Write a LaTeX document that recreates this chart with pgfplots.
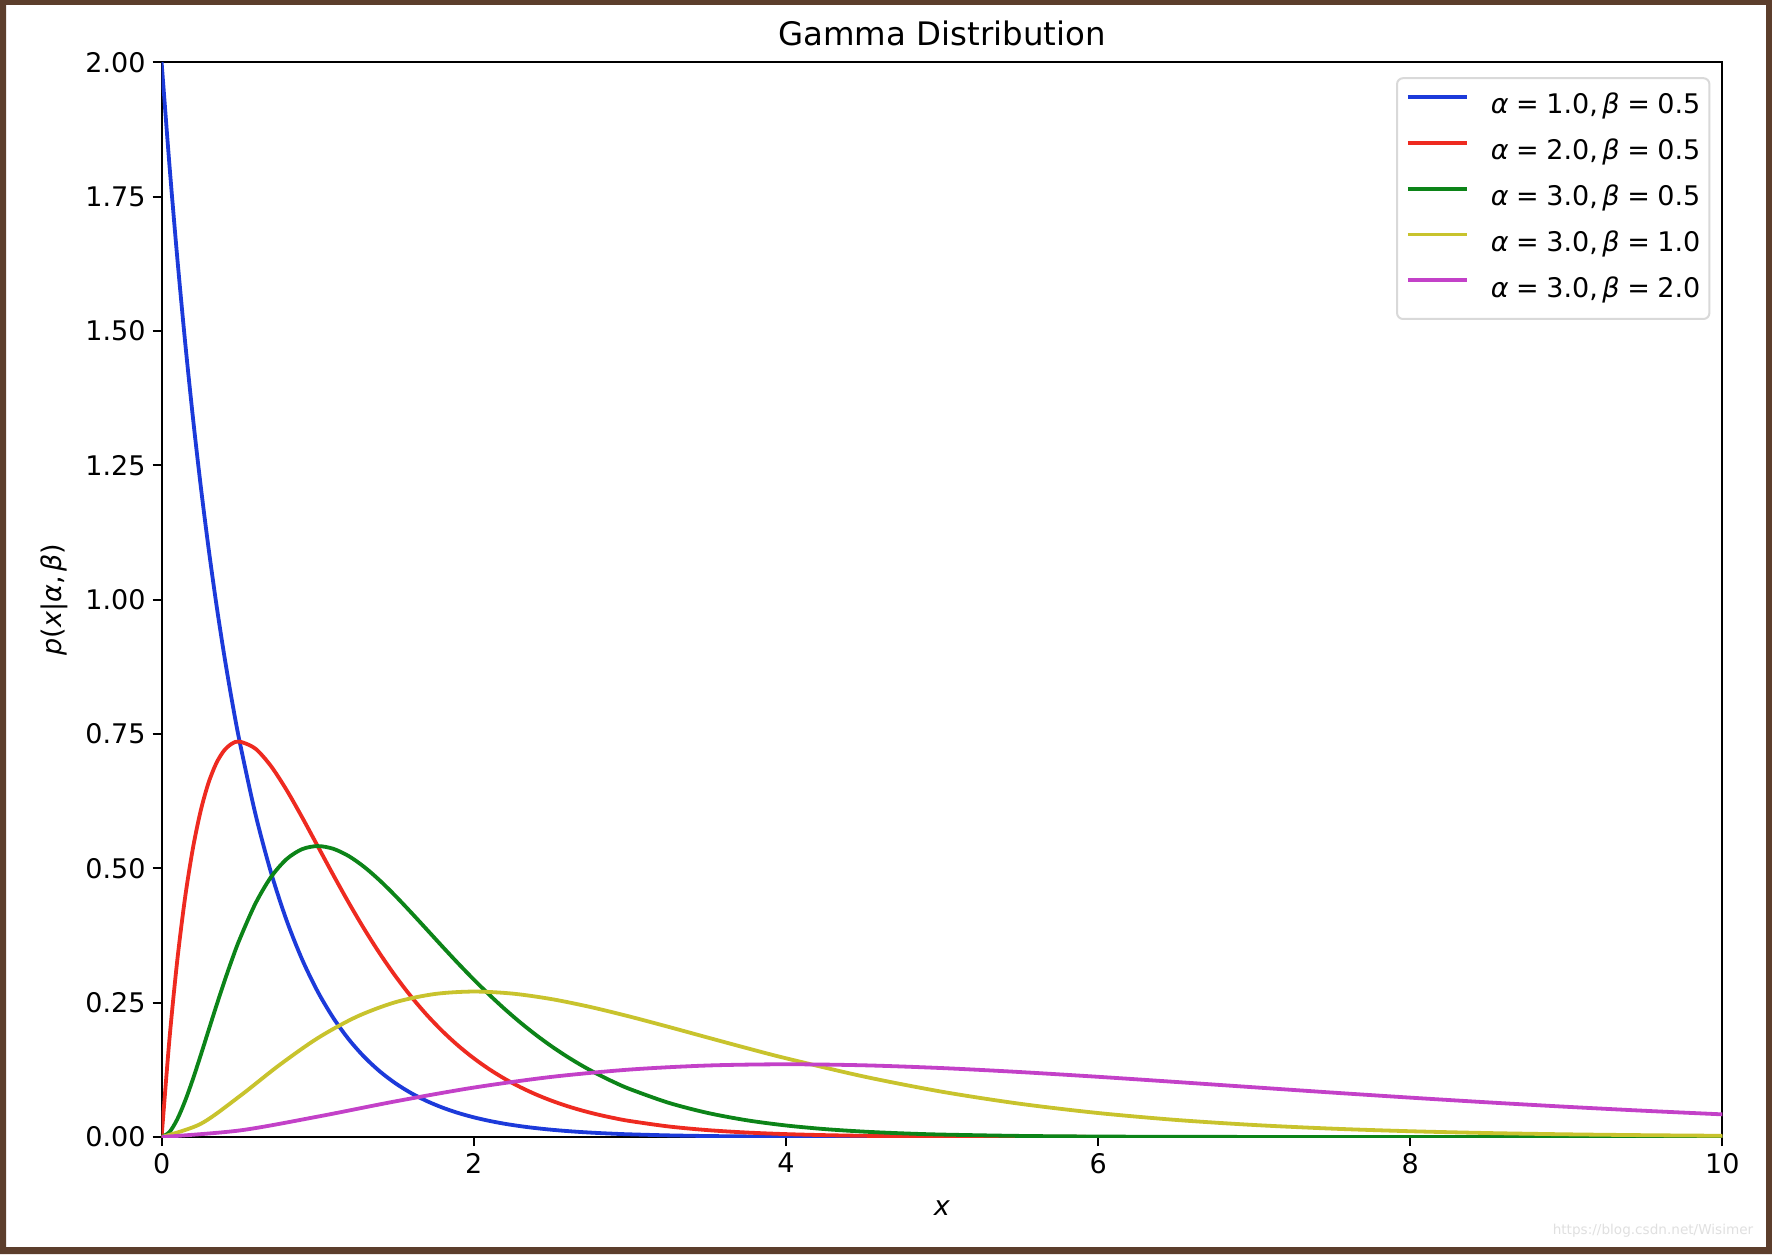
\documentclass[border=0pt]{standalone}
\usepackage{fontspec}
\setmainfont{DejaVu Sans}
\usepackage{pgfplots}
\pgfplotsset{compat=1.18}

\definecolor{cblue}{RGB}{28,58,218}
\definecolor{cred}{RGB}{238,42,32}
\definecolor{cgreen}{RGB}{12,132,24}
\definecolor{cyellow}{RGB}{200,195,45}
\definecolor{cmag}{RGB}{195,65,200}
\definecolor{framebrown}{RGB}{92,62,44}

\newcommand{\eq}{\hspace{0.28em}=\hspace{0.28em}}
\newcommand{\ab}[2]{\textit{α}\eq#1,\hspace{0.17em}\textit{β}\eq#2}
\newcommand{\mfont}{\fontsize{13.5}{16}\selectfont}

\begin{document}
\begin{tikzpicture}
\fill[white] (0pt,0pt) rectangle (886pt,627pt);
\fill[framebrown, even odd rule] (0pt,0pt) rectangle (886pt,627pt) (3pt,3.5pt) rectangle (883pt,624.5pt);
\begin{axis}[
	at={(80.8pt,58.5pt)}, anchor=south west,
	scale only axis,
	width=780.4pt, height=537.4pt,
	xmin=0, xmax=10, ymin=0, ymax=2,
	xtick={0,2,4,6,8,10},
	ytick={0,0.25,0.5,0.75,1,1.25,1.5,1.75,2},
	yticklabel={\pgfmathprintnumber[fixed,fixed zerofill,precision=2]{\tick}},
	/pgf/number format/assume math mode=true,
	ticklabel style={font=\mfont},
	xtick pos=bottom, ytick pos=left,
	tick align=outside,
	major tick length=4.5pt,
	tick style={line width=1pt, black},
	axis line style={line width=1pt},
	title={Gamma Distribution},
	every axis title shift=0pt,
	title style={font=\fontsize{16.2}{19}\selectfont, at={(axis description cs:0.5,1.0144)}, anchor=south, inner sep=0pt},
	xlabel={\textit{x}},
	xlabel style={font=\mfont, at={(axis description cs:0.5,-0.0661)}, anchor=center},
	ylabel={\textit{p}(\textit{x}|\textit{α},\hspace{0.17em}\textit{β})},
	ylabel style={font=\mfont, at={(axis description cs:-0.0689,0.5)}, anchor=center},
	legend style={at={(axis description cs:1,1)}, anchor=north east, xshift=-6pt, yshift=-7.5pt,
		draw=black!15, line width=1pt, rounded corners=3pt, fill=white, font=\mfont,
		inner xsep=4.5pt, inner ysep=8pt, row sep=10.1pt, column sep=11pt,
		nodes={inner sep=0pt, text height=9.9pt, text depth=2.9pt}},
	legend cell align=left,
	legend image code/.code={\draw[#1] (0pt,4.9pt) -- (29.5pt,4.9pt);},
	every axis plot/.append style={line width=1.9pt, smooth},
]
\addplot[cblue] coordinates {
(0,2) (0.05,1.80967) (0.1,1.63746) (0.15,1.48164) (0.2,1.34064) (0.25,1.21306)
(0.3,1.09762) (0.35,0.99317) (0.4,0.89866) (0.45,0.81314) (0.5,0.73576)
(0.6,0.60239) (0.7,0.49319) (0.8,0.40379) (0.9,0.33060) (1.0,0.27067)
(1.1,0.22161) (1.2,0.18144) (1.3,0.14855) (1.4,0.12162) (1.5,0.09957)
(1.6,0.08152) (1.7,0.06675) (1.8,0.05465) (1.9,0.04474) (2.0,0.03663)
(2.1,0.02999) (2.2,0.02455) (2.3,0.02010) (2.4,0.01646) (2.5,0.01348)
(2.6,0.01103) (2.7,0.00903) (2.8,0.00740) (2.9,0.00606) (3.0,0.00496)
(3.25,0.00301) (3.5,0.00182) (3.75,0.00111) (4.0,0.00067) (4.5,0.00025)
(5.0,0.00009) (6,0.00001) (7,0) (8,0) (9,0) (10,0)};
\addlegendentry{\ab{1.0}{0.5}}
\addplot[cred] coordinates {
(0,0) (0.05,0.18097) (0.1,0.32749) (0.15,0.44449) (0.2,0.53626) (0.25,0.60653)
(0.3,0.65857) (0.35,0.69522) (0.4,0.71893) (0.45,0.73183) (0.5,0.73576)
(0.6,0.72287) (0.7,0.69047) (0.8,0.64606) (0.9,0.59508) (1.0,0.54134)
(1.1,0.48754) (1.2,0.43546) (1.3,0.38623) (1.4,0.34054) (1.5,0.29871)
(1.6,0.26086) (1.7,0.22695) (1.8,0.19674) (1.9,0.17001) (2.0,0.14652)
(2.1,0.12597) (2.2,0.10804) (2.3,0.09248) (2.4,0.07901) (2.5,0.06738)
(2.6,0.05738) (2.7,0.04878) (2.8,0.04142) (2.9,0.03512) (3.0,0.02975)
(3.25,0.01954) (3.5,0.01277) (3.75,0.00830) (4.0,0.00537) (4.25,0.00346)
(4.5,0.00222) (4.75,0.00142) (5.0,0.00091) (6,0.00015) (7,0.00002) (8,0) (9,0) (10,0)};
\addlegendentry{\ab{2.0}{0.5}}
\addplot[cgreen] coordinates {
(0,0) (0.05,0.00905) (0.1,0.03275) (0.15,0.06667) (0.2,0.10725) (0.25,0.15163)
(0.3,0.19757) (0.35,0.24333) (0.4,0.28757) (0.45,0.32932) (0.5,0.36788)
(0.6,0.43372) (0.7,0.48333) (0.8,0.51685) (0.9,0.53557) (1.0,0.54134)
(1.1,0.53629) (1.2,0.52255) (1.3,0.50210) (1.4,0.47676) (1.5,0.44807)
(1.6,0.41738) (1.7,0.38582) (1.8,0.35413) (1.9,0.32302) (2.0,0.29305)
(2.1,0.26454) (2.2,0.23769) (2.3,0.21270) (2.4,0.18962) (2.5,0.16845)
(2.6,0.14919) (2.7,0.13171) (2.8,0.11598) (2.9,0.10185) (3.0,0.08924)
(3.25,0.06351) (3.5,0.04469) (3.75,0.03111) (4.0,0.02147) (4.25,0.01469)
(4.5,0.00999) (4.75,0.00676) (5.0,0.00454) (5.5,0.00202) (6,0.00088)
(6.5,0.00038) (7,0.00016) (8,0.00003) (9,0) (10,0)};
\addlegendentry{\ab{3.0}{0.5}}
\addplot[cyellow] coordinates {
(0,0) (0.25,0.02434) (0.5,0.07582) (0.75,0.13285) (1,0.18394) (1.25,0.22383)
(1.5,0.25102) (1.75,0.26609) (2,0.27067) (2.25,0.26679) (2.5,0.25652)
(2.75,0.24173) (3,0.22404) (3.25,0.20478) (3.5,0.18496) (3.75,0.16536)
(4,0.14653) (4.5,0.11248) (5,0.08422) (5.5,0.06182) (6,0.04462)
(6.5,0.03175) (7,0.02234) (7.5,0.01555) (8,0.01073) (8.5,0.00734)
(9,0.00500) (9.5,0.00338) (10,0.00227)};
\addlegendentry{\ab{3.0}{1.0}}
\addplot[cmag] coordinates {
(0,0) (0.5,0.01217) (1,0.03791) (1.5,0.06643) (2,0.09197) (2.5,0.11192)
(3,0.12551) (3.5,0.13305) (4,0.13534) (4.5,0.13340) (5,0.12826)
(5.5,0.12086) (6,0.11202) (6.5,0.10239) (7,0.09248) (7.5,0.08268)
(8,0.07326) (8.5,0.06441) (9,0.05624) (9.5,0.04880) (10,0.04211)};
\addlegendentry{\ab{3.0}{2.0}}
\end{axis}
\node[text=black!12, font=\fontsize{6.8}{8}\selectfont] at (826.5pt,11.5pt) {https://blog.csdn.net/Wisimer};
\end{tikzpicture}
\end{document}
